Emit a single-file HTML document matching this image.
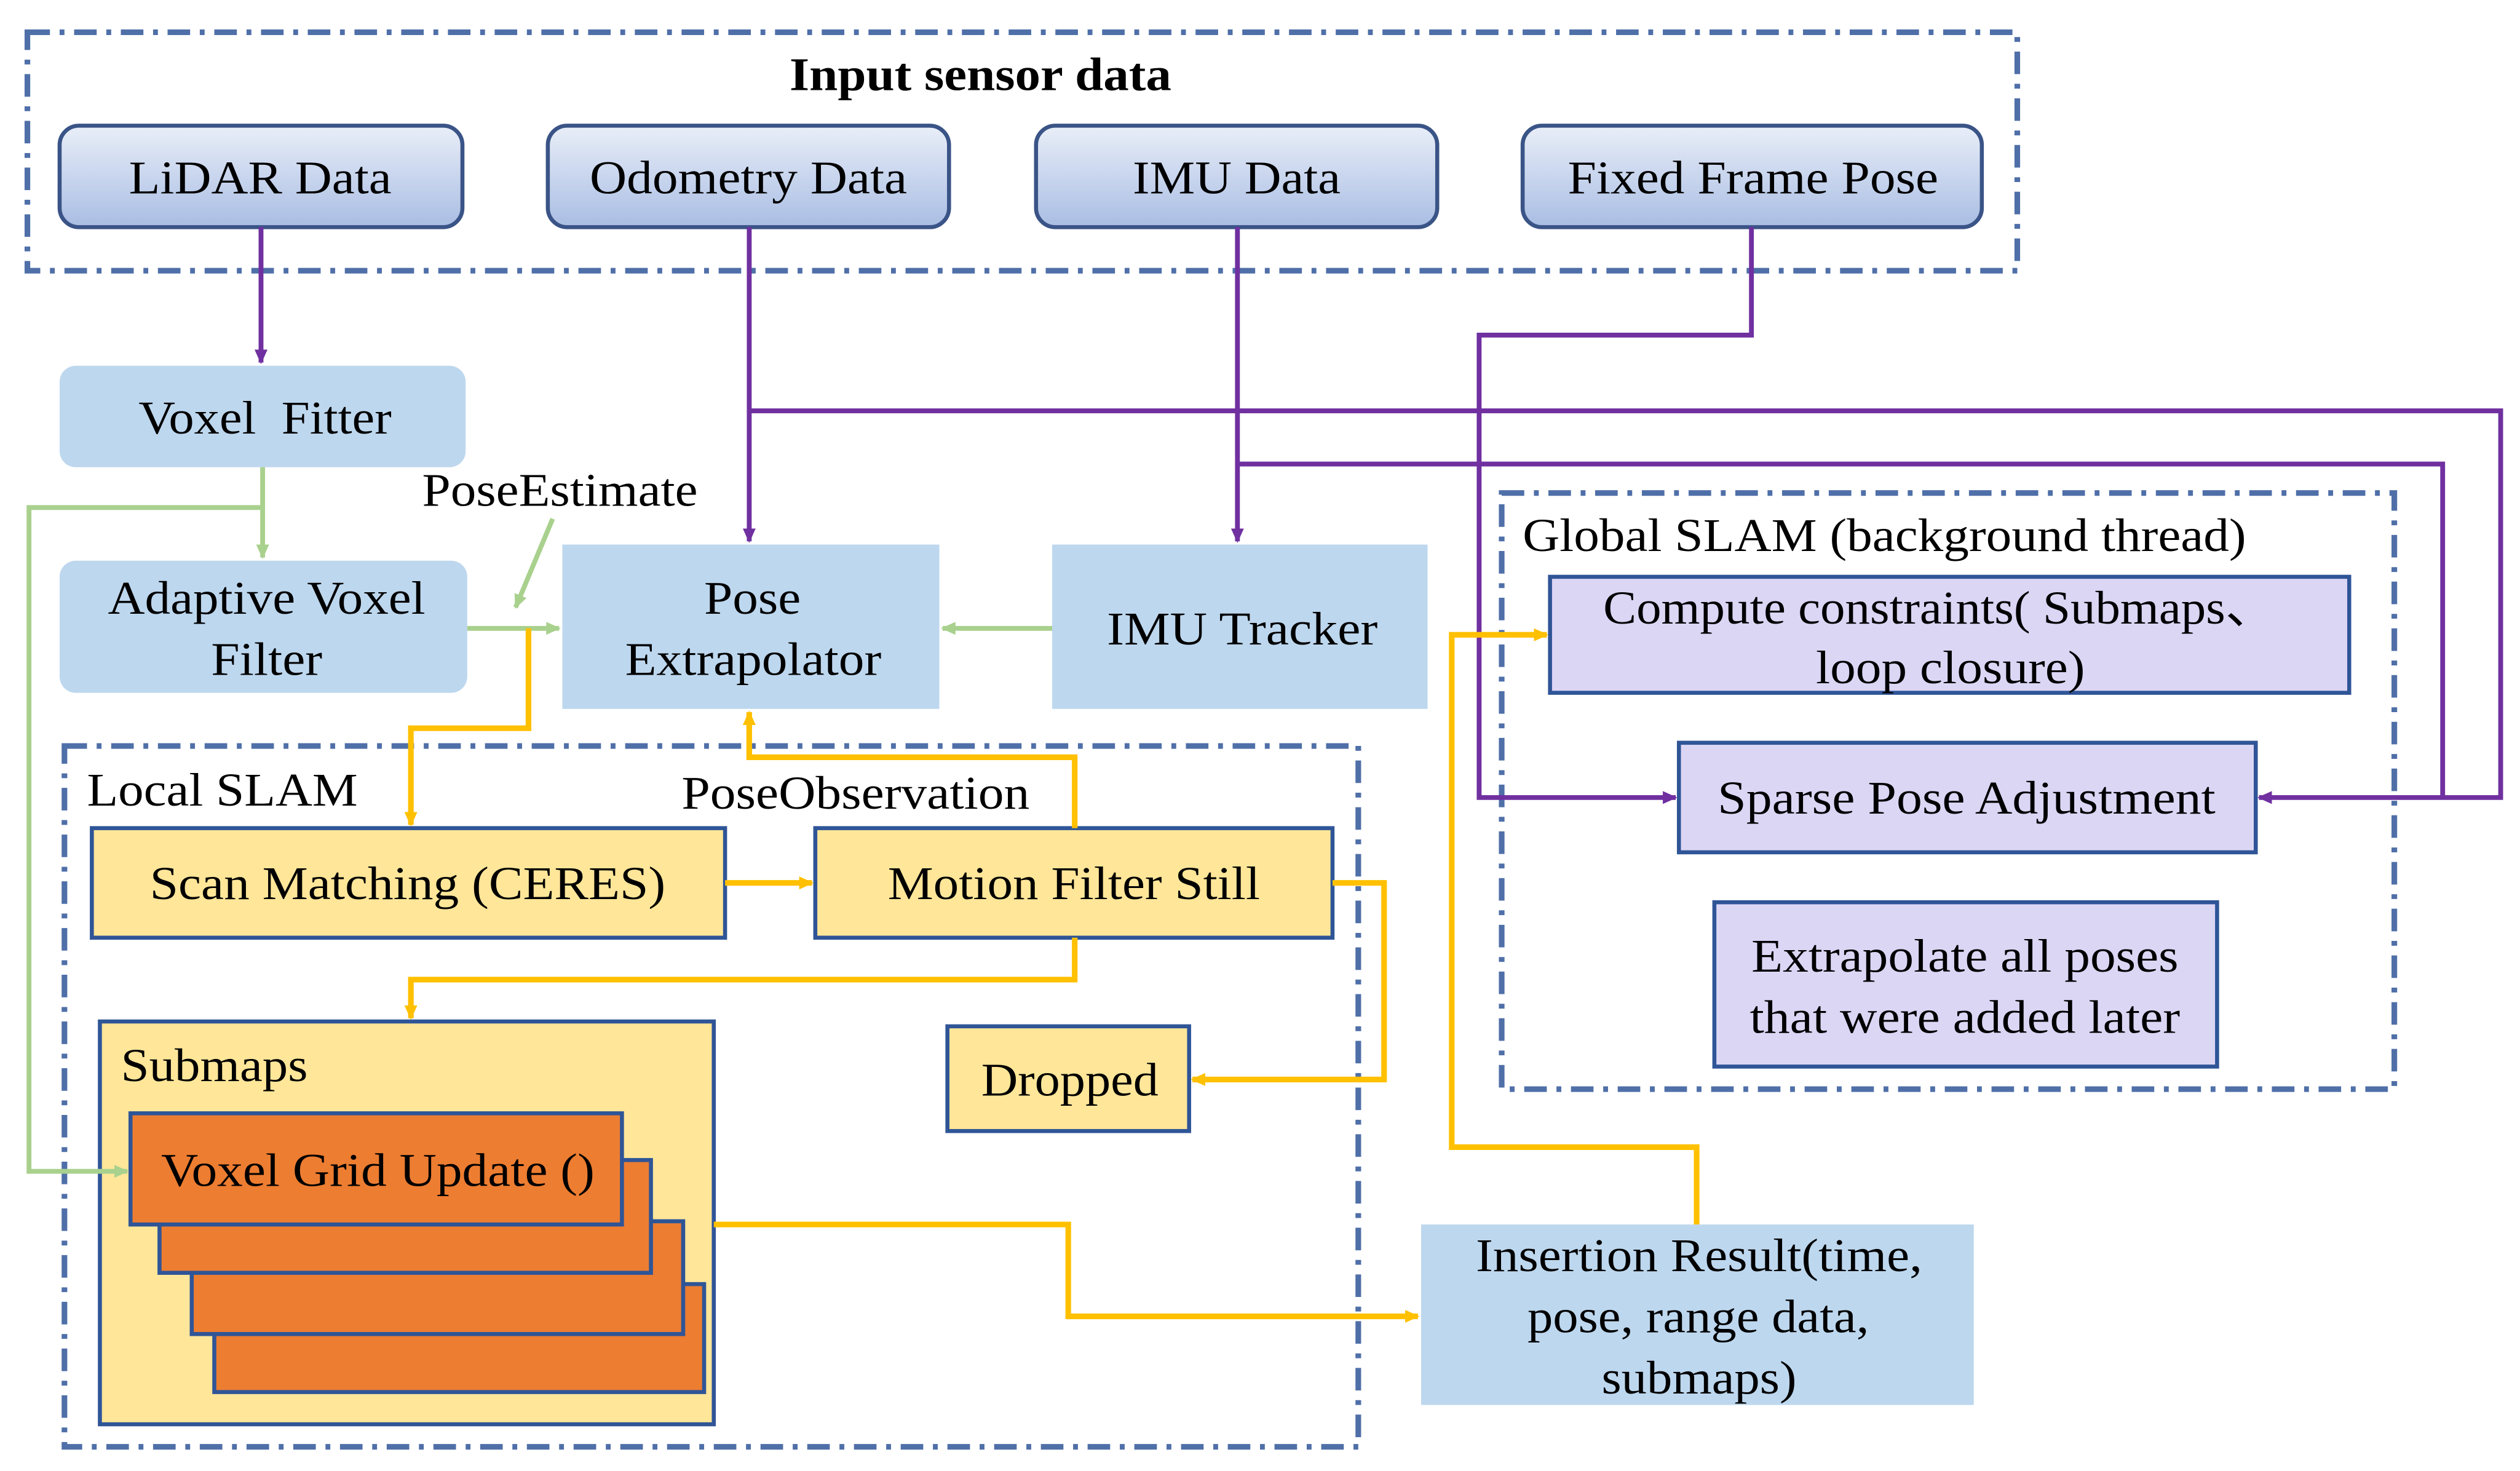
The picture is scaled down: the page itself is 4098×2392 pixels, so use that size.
<!DOCTYPE html>
<html><head><meta charset="utf-8"><style>
html,body{margin:0;padding:0;background:#fff;}
svg{display:block;}
text{font-family:"Liberation Serif","Times New Roman",serif;fill:#000;}
</style></head><body>
<svg width="4098" height="2392" viewBox="0 0 1564 913" preserveAspectRatio="none" xmlns="http://www.w3.org/2000/svg">
<defs>
<linearGradient id="g" x1="0" y1="0" x2="0" y2="1">
<stop offset="0" stop-color="#e9eef8"/><stop offset="1" stop-color="#a9bde3"/>
</linearGradient>
<marker id="ap" markerWidth="10" markerHeight="10" refX="8" refY="5" orient="auto" markerUnits="userSpaceOnUse"><path d="M0,1 L9,5 L0,9 z" fill="#7030a0"/></marker>
<marker id="ay" markerWidth="10" markerHeight="10" refX="8" refY="5" orient="auto" markerUnits="userSpaceOnUse"><path d="M0,1 L9,5 L0,9 z" fill="#ffc000"/></marker>
<marker id="ag" markerWidth="10" markerHeight="10" refX="8" refY="5" orient="auto" markerUnits="userSpaceOnUse"><path d="M0,1 L9,5 L0,9 z" fill="#a9d18e"/></marker>
</defs>
<rect width="1564" height="913" fill="#fff"/>

<g fill="none" stroke="#4f6fa8" stroke-width="3.5" stroke-dasharray="14,6,3,6">
<rect x="17" y="20" width="1235" height="148"/>
<rect x="40" y="463" width="803" height="435"/>
<rect x="932" y="306" width="554" height="370"/>
</g>

<g stroke="#3a5487" stroke-width="2.5" fill="url(#g)">
<rect x="37" y="78" width="250" height="63" rx="12"/>
<rect x="340" y="78" width="249" height="63" rx="12"/>
<rect x="643" y="78" width="249" height="63" rx="12"/>
<rect x="945" y="78" width="285" height="63" rx="12"/>
</g>

<g fill="#bdd7ee">
<rect x="37" y="227" width="252" height="63" rx="10"/>
<rect x="37" y="348" width="253" height="82" rx="10"/>
<rect x="349" y="338" width="234" height="102"/>
<rect x="653" y="338" width="233" height="102"/>
<rect x="882" y="760" width="343" height="112"/>
</g>

<g fill="#ffe699" stroke="#2f5597" stroke-width="2.5">
<rect x="57" y="514" width="393" height="68"/>
<rect x="506" y="514" width="321" height="68"/>
<rect x="62" y="634" width="381" height="250"/>
<rect x="588" y="637" width="150" height="65"/>
</g>

<g fill="#ed7d31" stroke="#2f5597" stroke-width="2.5">
<rect x="133" y="797" width="304" height="67"/>
<rect x="119" y="758" width="305" height="70"/>
<rect x="99" y="720" width="305" height="70"/>
<rect x="81" y="691" width="305" height="69"/>
</g>

<g fill="#dcd6f5" stroke="#2f5597" stroke-width="2.5">
<rect x="962" y="358" width="496" height="72"/>
<rect x="1042" y="461" width="358" height="68"/>
<rect x="1064" y="560" width="312" height="102"/>
</g>

<g font-size="29" lengthAdjust="spacingAndGlyphs">
<text x="490" y="56" font-weight="bold" textLength="237" lengthAdjust="spacingAndGlyphs">Input sensor data</text>
<text x="80" y="120" textLength="163" lengthAdjust="spacingAndGlyphs">LiDAR Data</text>
<text x="366" y="120" textLength="197" lengthAdjust="spacingAndGlyphs">Odometry Data</text>
<text x="703" y="120" textLength="129" lengthAdjust="spacingAndGlyphs">IMU Data</text>
<text x="973" y="120" textLength="230" lengthAdjust="spacingAndGlyphs">Fixed Frame Pose</text>
<text x="86" y="269" textLength="157" lengthAdjust="spacingAndGlyphs" xml:space="preserve">Voxel  Fitter</text>
<text x="67" y="381" textLength="197" lengthAdjust="spacingAndGlyphs">Adaptive Voxel</text>
<text x="131" y="419" textLength="69" lengthAdjust="spacingAndGlyphs">Filter</text>
<text x="437" y="381" textLength="60" lengthAdjust="spacingAndGlyphs">Pose</text>
<text x="388" y="419" textLength="159" lengthAdjust="spacingAndGlyphs">Extrapolator</text>
<text x="687" y="400" textLength="168" lengthAdjust="spacingAndGlyphs">IMU Tracker</text>
<text x="262" y="314" textLength="171" lengthAdjust="spacingAndGlyphs">PoseEstimate</text>
<text x="54" y="500" textLength="168" lengthAdjust="spacingAndGlyphs">Local SLAM</text>
<text x="423" y="502" textLength="216" lengthAdjust="spacingAndGlyphs">PoseObservation</text>
<text x="93" y="558" textLength="320" lengthAdjust="spacingAndGlyphs">Scan Matching (CERES)</text>
<text x="551" y="558" textLength="231" lengthAdjust="spacingAndGlyphs">Motion Filter Still</text>
<text x="75" y="671" textLength="116" lengthAdjust="spacingAndGlyphs">Submaps</text>
<text x="100" y="736" textLength="269" lengthAdjust="spacingAndGlyphs">Voxel Grid Update ()</text>
<text x="609" y="680" textLength="110" lengthAdjust="spacingAndGlyphs">Dropped</text>
<text x="945" y="342" textLength="449" lengthAdjust="spacingAndGlyphs">Global SLAM (background thread)</text>
<text x="995" y="387" textLength="417" lengthAdjust="spacingAndGlyphs">Compute constraints( Submaps、</text>
<text x="1127" y="424" textLength="167" lengthAdjust="spacingAndGlyphs">loop closure)</text>
<text x="1066" y="505" textLength="309" lengthAdjust="spacingAndGlyphs">Sparse Pose Adjustment</text>
<text x="1087" y="603" textLength="265" lengthAdjust="spacingAndGlyphs">Extrapolate all poses</text>
<text x="1086" y="641" textLength="267" lengthAdjust="spacingAndGlyphs">that were added later</text>
<text x="916" y="789" textLength="277" lengthAdjust="spacingAndGlyphs">Insertion Result(time,</text>
<text x="948" y="827" textLength="212" lengthAdjust="spacingAndGlyphs">pose, range data,</text>
<text x="994" y="865" textLength="121" lengthAdjust="spacingAndGlyphs">submaps)</text>
</g>

<g fill="none" stroke="#7030a0" stroke-width="3">
<path d="M162,141 V225" marker-end="url(#ap)"/>
<path d="M465,141 V336" marker-end="url(#ap)"/>
<path d="M768,141 V336" marker-end="url(#ap)"/>
<path d="M465,255 H1552 V495 H1402" marker-end="url(#ap)"/>
<path d="M768,288 H1516 V495"/>
<path d="M1087,141 V208 H918 V495 H1040" marker-end="url(#ap)"/>
</g>

<g fill="none" stroke="#a9d18e" stroke-width="3">
<path d="M163,290 V346" marker-end="url(#ag)"/>
<path d="M163,315 H18 V727 H79" marker-end="url(#ag)"/>
<path d="M290,390 H347" marker-end="url(#ag)"/>
<path d="M653,390 H585" marker-end="url(#ag)"/>
<path d="M343,322 L320,377" marker-end="url(#ag)"/>
</g>

<g fill="none" stroke="#ffc000" stroke-width="3.5">
<path d="M328,390 V452 H255 V512" marker-end="url(#ay)"/>
<path d="M450,548 H504" marker-end="url(#ay)"/>
<path d="M667,514 V470 H465 V442" marker-end="url(#ay)"/>
<path d="M667,582 V608 H255 V632" marker-end="url(#ay)"/>
<path d="M827,548 H859 V670 H740" marker-end="url(#ay)"/>
<path d="M443,760 H663 V817 H880" marker-end="url(#ay)"/>
<path d="M1053,760 V712 H901 V394 H960" marker-end="url(#ay)"/>
</g>
</svg>
</body></html>
